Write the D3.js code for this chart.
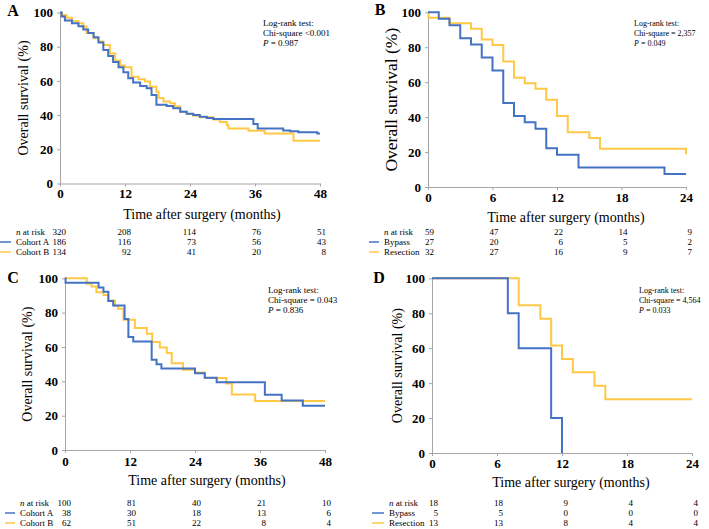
<!DOCTYPE html>
<html>
<head>
<meta charset="utf-8">
<script src="https://cdn.jsdelivr.net/npm/d3@7"></script>
<style>
body { margin: 0; background: #fff; }
svg { font-family: "Liberation Serif", "Times New Roman", serif; }
</style>
</head>
<body>
<svg id="chart" width="709" height="529"></svg>
<script>
// ---- panel A : Cohort A vs Cohort B, 48 months ----
var aTicks = [0, 12, 24, 36, 48];
var aBlueTime = [0, 0.3, 0.9, 2.2, 3.4, 4.3, 5.2, 6.2, 7.1, 8, 8.9, 9.8, 10.8, 11.7, 12.6, 13.5, 14.8, 16, 16.9, 17.8, 19.7, 20.9, 22.2, 23.4, 24.6, 25.8, 27.1, 28.3, 35.7, 36.5, 41.2, 42.5, 44, 47.5];
var aBlueSurv = [100, 97.6, 95.3, 93.7, 92, 90, 88, 85.5, 82.4, 78, 74.6, 71, 68, 65, 61.5, 59, 57, 55.7, 51.8, 46, 45.3, 44, 42, 40.8, 40, 39, 38.3, 37.7, 34.8, 32.2, 31, 30.5, 29.9, 29.3];
var aYellowTime = [0, 0.3, 1.2, 2.2, 3.4, 4.3, 4.9, 6.2, 7.1, 8, 9.2, 10.2, 11.1, 12, 13.2, 14.5, 15.7, 16.6, 17.8, 18.2, 19.1, 20.3, 21.2, 22.2, 23.4, 24.6, 25.8, 28.3, 29.5, 30.8, 31.1, 34.8, 37.8, 43.1];
var aYellowSurv = [100, 98.6, 97, 95, 93.7, 91.8, 88, 85, 83, 81, 76, 72, 69, 68, 62.5, 61, 59.6, 56.6, 53.7, 50, 48, 47, 45, 42, 40.6, 39.6, 38.7, 37.5, 36, 34, 32.2, 30.8, 29.3, 25];
var aRisk = [320, 208, 114, 76, 51];
var aRiskBlue = [186, 116, 73, 56, 43];
var aRiskYellow = [134, 92, 41, 20, 8];

// ---- panel B : Bypass vs Resection, 24 months ----
var bTicks = [0, 6, 12, 18, 24];
var bBlueTime = [0, 1, 2, 3, 4, 5, 6, 7, 8, 9, 10, 11, 12, 14, 22];
var bBlueSurv = [100, 96.3, 92.6, 85.2, 81.5, 74.1, 66.7, 48.1, 40.7, 37, 33.3, 22.2, 18.5, 11.1, 7.4];
var bYellowTime = [0, 0.05, 2, 4, 5, 6, 7, 8, 9, 10, 11, 12, 13, 15, 16, 24];
var bYellowSurv = [100, 96.9, 93.8, 90.6, 84.4, 81.3, 71.9, 62.5, 59.4, 56.3, 50, 40.6, 31.3, 28.1, 21.9, 18.8];
var bRisk = [59, 47, 22, 14, 9];
var bRiskBlue = [27, 20, 6, 5, 2];
var bRiskYellow = [32, 27, 16, 9, 7];

// ---- panel C : Cohort A vs Cohort B, 48 months ----
var cTicks = [0, 12, 24, 36, 48];
var cBlueTime = [0, 0.1, 6.2, 7.1, 8, 8.9, 11, 11.7, 12.6, 16, 16.9, 17.8, 24, 25.8, 28, 36.9, 40, 43.9];
var cBlueSurv = [100, 97.4, 94.7, 92.1, 86.8, 84.2, 76.3, 65.8, 63.2, 52.6, 50, 47.4, 44.7, 42.1, 39.5, 32.2, 28.9, 25.8];
var cYellowTime = [0, 4, 4.9, 5.8, 7.1, 8, 9.2, 9.8, 10.8, 12.9, 15.1, 16.1, 17.5, 18.8, 19.7, 21.8, 24, 25.8, 29.8, 30.8, 35.1];
var cYellowSurv = [100, 96.8, 95.2, 91.9, 90.3, 87.1, 83.9, 82.3, 75.8, 71, 67.7, 62.9, 59.7, 56.5, 50.5, 46.8, 45.2, 42, 38.7, 32.3, 28.5];
var cRisk = [100, 81, 40, 21, 10];
var cRiskBlue = [38, 30, 18, 13, 6];
var cRiskYellow = [62, 51, 22, 8, 4];

// ---- panel D : Bypass vs Resection, 24 months ----
var dTicks = [0, 6, 12, 18, 24];
var dBlueTime = [0, 7, 8, 11, 12];
var dBlueSurv = [100, 80, 60, 20, 0];
var dYellowTime = [0, 8, 10, 11, 12, 13, 15, 16];
var dYellowSurv = [100, 84.6, 76.9, 61.5, 53.8, 46.2, 38.5, 30.8];
var dRisk = [18, 18, 9, 4, 4];
var dRiskBlue = [5, 5, 0, 0, 0];
var dRiskYellow = [13, 13, 8, 4, 4];

var yTicks = [0, 20, 40, 60, 80, 100];
var blue = "#4472c4", yellow = "#ffc845", axisGrey = "#a6a6a6";

var panels = [
  { label: "A", ticks: aTicks, blue: [aBlueTime, aBlueSurv], yellow: [aYellowTime, aYellowSurv],
    risk: [aRisk, aRiskBlue, aRiskYellow], names: ["Cohort A", "Cohort B"],
    stats: ["Chi-square <0.001", "0.987"], statSize: 9,
    x0: 60, x1: 320, yTop: 12.5, yBot: 183.5, pad: 2, titleX: 202, titleY: 218.5, yTitleX: 23, yTitleSize: 14,
    labelX: 13, labelY: 16, statX: 263, statY: 26, rowY: 235, rowX: 16, legX: [0, 11] },
  { label: "B", ticks: bTicks, blue: [bBlueTime, bBlueSurv], yellow: [bYellowTime, bYellowSurv],
    risk: [bRisk, bRiskBlue, bRiskYellow], names: ["Bypass", "Resection"],
    stats: ["Chi-square = 2,357", "0.049"], statSize: 8,
    x0: 428, x1: 686, yTop: 12.3, yBot: 187, pad: 2.5, titleX: 566, titleY: 221.5, yTitleX: 391, yTitleSize: 17.5,
    labelX: 380, labelY: 15, statX: 634, statY: 26, rowY: 235, rowX: 384, legX: [369, 379] },
  { label: "C", ticks: cTicks, blue: [cBlueTime, cBlueSurv], yellow: [cYellowTime, cYellowSurv],
    risk: [cRisk, cRiskBlue, cRiskYellow], names: ["Cohort A", "Cohort B"],
    stats: ["Chi-square = 0.043", "0.836"], statSize: 9,
    x0: 65, x1: 325, yTop: 278.3, yBot: 450, pad: 3.5, titleX: 207, titleY: 485, yTitleX: 27, yTitleSize: 14,
    labelX: 13, labelY: 283, statX: 268, statY: 293, rowY: 506, rowX: 20, legX: [5, 15] },
  { label: "D", ticks: dTicks, blue: [dBlueTime, dBlueSurv], yellow: [dYellowTime, dYellowSurv],
    risk: [dRisk, dRiskBlue, dRiskYellow], names: ["Bypass", "Resection"],
    stats: ["Chi-square = 4,564", "0.033"], statSize: 8,
    x0: 432, x1: 692, yTop: 278.3, yBot: 453, pad: 2.5, titleX: 571, titleY: 487, yTitleX: 397, yTitleSize: 14,
    labelX: 379, labelY: 283, statX: 639, statY: 293, rowY: 506, rowX: 389, legX: [372, 384] }
];

var svg = d3.select("#chart");

function drawPanel(p) {
  var tMax = p.ticks[p.ticks.length - 1];
  var x = d3.scaleLinear().domain([0, tMax]).range([p.x0, p.x1]);
  var y = d3.scaleLinear().domain([0, 100]).range([p.yBot, p.yTop]);
  var g = svg.append("g");

  var xAxis = g.append("g")
      .attr("transform", "translate(0," + p.yBot + ")")
      .call(d3.axisBottom(x).tickValues(p.ticks).tickSize(3).tickSizeOuter(0).tickPadding(p.pad));
  var yAxis = g.append("g")
      .attr("transform", "translate(" + p.x0 + ",0)")
      .call(d3.axisLeft(y).tickValues(yTicks).tickSize(3).tickSizeOuter(0).tickPadding(4));
  [xAxis, yAxis].forEach(function(a) {
    a.select(".domain").attr("stroke", axisGrey);
    a.selectAll(".tick line").attr("stroke", axisGrey);
    a.selectAll("text").attr("fill", "#000").style("font-size", "13px").style("font-weight", "bold")
      .style("font-family", "'Liberation Serif', serif");
  });

  // step curves
  var line = d3.line()
      .x(function(d) { return x(d[0]); })
      .y(function(d) { return y(d[1]); })
      .curve(d3.curveStepAfter);
  [[p.yellow, yellow], [p.blue, blue]].forEach(function(s) {
    var pts = s[0][0].map(function(t, i) { return [t, s[0][1][i]]; });
    var last = pts[pts.length - 1];
    if (last[1] > 0) pts.push([tMax, last[1]]);
    g.append("path")
        .attr("d", line(pts))
        .attr("fill", "none")
        .attr("stroke", s[1])
        .attr("stroke-width", 2);
  });

  // titles
  g.append("text")
      .attr("x", p.titleX).attr("y", p.titleY)
      .attr("text-anchor", "middle")
      .style("font-size", "14px")
      .text("Time after surgery (months)");
  g.append("text")
      .attr("transform", "translate(" + p.yTitleX + "," + (p.yTop + p.yBot) / 2 + ") rotate(-90)")
      .attr("text-anchor", "middle")
      .attr("dominant-baseline", "central")
      .style("font-size", p.yTitleSize + "px")
      .text("Overall survival (%)");
  g.append("text")
      .attr("x", p.labelX).attr("y", p.labelY)
      .attr("text-anchor", "middle")
      .style("font-size", "16px").style("font-weight", "bold")
      .text(p.label);

  // log-rank box
  var st = g.append("g").style("font-size", p.statSize + "px");
  st.append("text").attr("x", p.statX).attr("y", p.statY).text("Log-rank test:");
  st.append("text").attr("x", p.statX).attr("y", p.statY + 10).text(p.stats[0]);
  var pt = st.append("text").attr("x", p.statX).attr("y", p.statY + 20);
  pt.append("tspan").style("font-style", "italic").text("P");
  pt.append("tspan").text(" = " + p.stats[1]);

  // number at risk table
  var tb = g.append("g").style("font-size", "9px");
  var head = tb.append("text").attr("x", p.rowX).attr("y", p.rowY);
  head.append("tspan").style("font-style", "italic").text("n");
  head.append("tspan").text(" at risk");
  p.names.forEach(function(n, i) {
    var ry = p.rowY + 10 * (i + 1);
    tb.append("text").attr("x", p.rowX).attr("y", ry).text(n);
    tb.append("line")
        .attr("x1", p.legX[0]).attr("x2", p.legX[1])
        .attr("y1", ry - 3).attr("y2", ry - 3)
        .attr("stroke", i === 0 ? blue : yellow)
        .attr("stroke-width", 1.5);
  });
  p.risk.forEach(function(row, r) {
    tb.selectAll(null)
      .data(row)
      .enter().append("text")
        .attr("x", function(d, i) { return x(p.ticks[i]) + 6; })
        .attr("y", p.rowY + 10 * r)
        .attr("text-anchor", "end")
        .text(function(d) { return d; });
  });
}

panels.forEach(drawPanel);
</script>
</body>
</html>
